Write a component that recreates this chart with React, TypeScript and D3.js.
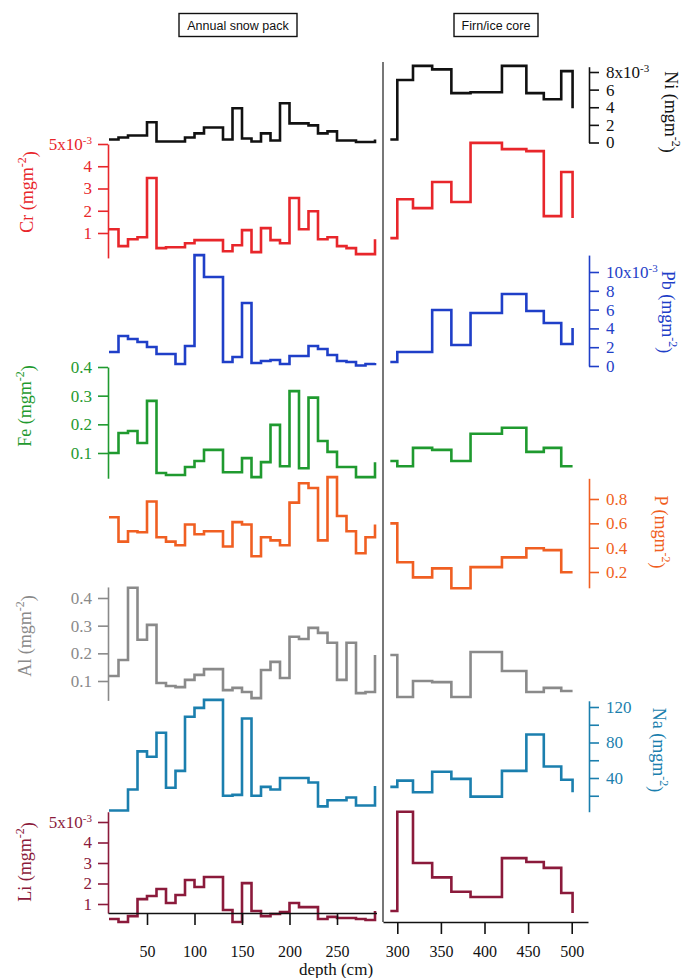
import { useRef, useEffect } from "react";
import * as d3 from "d3";

// depth (cm) of each sample boundary
const leftDepth = [10, 20, 30, 40, 50, 60, 70, 80, 90, 100, 110, 120, 130, 140, 150, 160, 170, 180, 190, 200, 210, 220, 230, 240, 250, 260, 270, 280, 290];
const rightDepth = [292, 300, 318, 340, 362, 384, 420, 448, 468, 488, 501];

const leftTicks = [50, 100, 150, 200, 250];
const rightTicks = [300, 350, 400, 450, 500];

// fluxes, mg m-2 (Ni, Cr, Pb, Li in 10^-3)
const niLeft = [0.34, 0.57, 0.8, 0.8, 2.29, 0.11, 0.11, 0.11, 0.57, 1.03, 1.71, 1.71, 0.34, 3.89, 0.46, 0.11, 1.03, 0.23, 4.46, 2.17, 2.17, 1.94, 1.03, 1.26, 0.23, 0.23, 0.05, 0.05, 0.34];
const niRight = [0.34, 7.1, 8.7, 8.3, 5.6, 5.7, 8.7, 5.6, 4.9, 8.1, 3.9];

const crLeft = [1.17, 0.41, 0.72, 0.81, 3.47, 0.32, 0.36, 0.36, 0.54, 0.68, 0.68, 0.68, 0.18, 0.45, 1.13, 0.14, 1.22, 0.68, 0.54, 2.57, 1.17, 1.98, 0.72, 0.81, 0.41, 0.32, 0.05, 0.05, 0.72];
const crRight = [0.77, 2.52, 2.12, 3.29, 2.39, 5.05, 4.77, 4.68, 1.76, 3.74, 1.67];

const pbLeft = [1.49, 3.19, 2.87, 2.55, 2.02, 1.28, 1.28, 0.21, 2.13, 11.8, 9.47, 9.47, 0.43, 0.96, 6.7, 0.32, 0.53, 0.64, 0.21, 1.06, 1.06, 2.13, 1.81, 1.17, 0.53, 0.43, 0.05, 0.21, 0.32];
const pbRight = [0.43, 1.49, 1.49, 5.96, 2.23, 5.64, 7.66, 5.85, 4.57, 2.34, 4.04];

const feLeft = [0.1, 0.17, 0.177, 0.135, 0.282, 0.03, 0.023, 0.023, 0.051, 0.072, 0.111, 0.111, 0.033, 0.033, 0.082, 0.016, 0.068, 0.198, 0.054, 0.316, 0.047, 0.293, 0.142, 0.104, 0.051, 0.051, 0.016, 0.016, 0.068];
const feRight = [0.072, 0.054, 0.118, 0.111, 0.072, 0.167, 0.188, 0.104, 0.118, 0.054, 0.054];

const pLeft = [0.65, 0.45, 0.535, 0.527, 0.78, 0.486, 0.45, 0.42, 0.59, 0.51, 0.535, 0.535, 0.41, 0.61, 0.59, 0.33, 0.486, 0.46, 0.42, 0.77, 0.93, 0.89, 0.46, 0.98, 0.66, 0.535, 0.354, 0.486, 0.59];
const pRight = [0.6, 0.28, 0.156, 0.23, 0.066, 0.24, 0.32, 0.395, 0.38, 0.198, 0.198];

const alLeft = [0.118, 0.176, 0.437, 0.249, 0.303, 0.093, 0.082, 0.078, 0.104, 0.122, 0.143, 0.143, 0.067, 0.075, 0.06, 0.038, 0.14, 0.169, 0.111, 0.26, 0.252, 0.292, 0.274, 0.238, 0.104, 0.238, 0.056, 0.06, 0.194];
const alRight = [0.194, 0.042, 0.1, 0.096, 0.042, 0.205, 0.136, 0.06, 0.075, 0.064, 0.064];

const naLeft = [3.4, 3.4, 27, 70, 64, 91, 29, 48, 109, 119, 128, 128, 20, 21, 107, 20, 30, 27, 40, 40, 40, 35, 8, 15, 15, 18, 9, 9, 31];
const naRight = [30, 37, 24, 47, 39, 19, 48, 89, 53, 38, 24];

const liLeft = [0.27, 0.12, 0.41, 1.24, 1.39, 1.73, 1.05, 1.44, 2.17, 1.83, 2.32, 2.32, 0.71, 0.12, 2.02, 0.66, 0.41, 0.51, 0.61, 1.05, 0.85, 0.85, 0.27, 0.37, 0.32, 0.32, 0.27, 0.22, 0.66];
const liRight = [0.66, 5.5, 3.0, 2.3, 1.6, 1.34, 3.24, 3.05, 2.76, 1.54, 0.56];

// layout of each stacked trace: two value->pixel anchors, axis extent and side
const panels = [
  { name: "Ni", left: niLeft, right: niRight, color: "#111111", side: "right", anchors: [[0, 142.5], [8, 72]], extent: [0, 8.6], ticks: [0, 2, 4, 6, 8], labelled: [0, 2, 4, 6, 8], exp: 8, lx: 665, ly: 112 },
  { name: "Cr", left: crLeft, right: crRight, color: "#e8262b", side: "left", anchors: [[1, 233], [5, 144]], extent: [-0.12, 5], ticks: [1, 2, 3, 4, 5], labelled: [1, 2, 3, 4, 5], exp: 5, lx: 33, ly: 192 },
  { name: "Pb", left: pbLeft, right: pbRight, color: "#1f3fc8", side: "right", anchors: [[0, 366], [10, 272]], extent: [0, 11.8], ticks: [0, 2, 4, 6, 8, 10], labelled: [0, 2, 4, 6, 8, 10], exp: 10, lx: 662, ly: 312 },
  { name: "Fe", left: feLeft, right: feRight, color: "#1f9a2f", side: "left", anchors: [[0.1, 453], [0.4, 367]], extent: [0.012, 0.4], ticks: [0.1, 0.2, 0.3, 0.4], labelled: [0.1, 0.2, 0.3, 0.4], exp: null, lx: 31, ly: 406 },
  { name: "P", left: pLeft, right: pRight, color: "#f05f22", side: "right", anchors: [[0.2, 572], [0.8, 499]], extent: [0.07, 0.97], ticks: [0.2, 0.4, 0.6, 0.8], labelled: [0.2, 0.4, 0.6, 0.8], exp: null, lx: 655, ly: 532 },
  { name: "Al", left: alLeft, right: alRight, color: "#8a8a8a", side: "left", anchors: [[0.1, 681], [0.4, 598]], extent: [0.03, 0.44], ticks: [0.1, 0.2, 0.3, 0.4], labelled: [0.1, 0.2, 0.3, 0.4], exp: null, lx: 31, ly: 636 },
  { name: "Na", left: naLeft, right: naRight, color: "#1b7fae", side: "right", anchors: [[40, 778], [120, 707]], extent: [2, 127], ticks: [20, 40, 60, 80, 100, 120], labelled: [40, 80, 120], exp: null, lx: 653, ly: 750 },
  { name: "Li", left: liLeft, right: liRight, color: "#8b1a3b", side: "left", anchors: [[1, 904], [5, 822]], extent: [0.56, 5.5], ticks: [1, 2, 3, 4, 5], labelled: [1, 2, 3, 4, 5], exp: 5, lx: 31, ly: 862 },
];

const serif = "Liberation Serif, Times New Roman, serif";
const sans = "Liberation Sans, Arial, sans-serif";

const SnowChart = () => {
  const svgRef = useRef<SVGSVGElement>(null);

  useEffect(() => {
    document.body.style.margin = "0";
    const svg = d3.select(svgRef.current);
    svg.selectAll("*").remove();

    const xL = d3.scaleLinear().domain([50, 250]).range([147, 337]);
    const xR = d3.scaleLinear().domain([300, 500]).range([397.3, 571.7]);

    // titles
    const titles = [
      { text: "Annual snow pack", x: 179, w: 118 },
      { text: "Firn/ice core", x: 454, w: 84 },
    ];
    titles.forEach((t) => {
      svg.append("rect")
        .attr("x", t.x).attr("y", 13.5).attr("width", t.w).attr("height", 23)
        .attr("fill", "none").attr("stroke", "#111").attr("stroke-width", 1.4);
      svg.append("text")
        .attr("x", t.x + t.w / 2).attr("y", 30)
        .attr("text-anchor", "middle")
        .attr("font-family", sans).attr("font-size", 12.5)
        .attr("fill", "#111")
        .text(t.text);
    });

    // divider between snow pack and firn core
    svg.append("line")
      .attr("x1", 383).attr("x2", 383).attr("y1", 62).attr("y2", 922)
      .attr("stroke", "#555").attr("stroke-width", 1.6);

    panels.forEach((p) => {
      const y = d3.scaleLinear()
        .domain([p.anchors[0][0], p.anchors[1][0]])
        .range([p.anchors[0][1], p.anchors[1][1]]);

      const lineL = d3.line<number>()
        .x((_, i) => xL(leftDepth[i]))
        .y((d) => y(d))
        .curve(d3.curveStepAfter);
      const lineR = d3.line<number>()
        .x((_, i) => xR(rightDepth[i]))
        .y((d) => y(d))
        .curve(d3.curveStepAfter);

      [lineL(p.left), lineR(p.right)].forEach((d) => {
        svg.append("path")
          .attr("d", d)
          .attr("fill", "none")
          .attr("stroke", p.color)
          .attr("stroke-width", 2.6)
          .attr("stroke-linejoin", "miter");
      });

      // y axis
      const axisScale = d3.scaleLinear()
        .domain(p.extent)
        .range(p.extent.map((v) => y(v)));
      const axisGen = (p.side === "left" ? d3.axisLeft(axisScale) : d3.axisRight(axisScale))
        .tickValues(p.ticks)
        .tickSizeInner(10)
        .tickSizeOuter(0)
        .tickPadding(p.side === "left" ? 6 : 7)
        .tickFormat((v) => (p.labelled.includes(v as number) ? String(v) : ""));

      const g = svg.append("g")
        .attr("transform", `translate(${p.side === "left" ? 108 : 589},0)`)
        .call(axisGen)
        .attr("font-family", serif)
        .attr("font-size", 17);
      g.select(".domain").attr("stroke", p.color).attr("stroke-width", 1.6);
      g.selectAll(".tick line").attr("stroke", p.color).attr("stroke-width", 1.6);
      g.selectAll<SVGTextElement, number>(".tick text")
        .attr("fill", p.color)
        .style("font-family", serif)
        .style("font-size", "17px")
        .each(function (v) {
          if (v === p.exp) {
            const t = d3.select(this);
            t.text(null);
            t.append("tspan").text(`${v}x10`);
            t.append("tspan").attr("dy", "-0.55em").style("font-size", "11px").text("-3");
          }
        });

      // axis title
      const rot = p.side === "left" ? -90 : 90;
      const title = svg.append("text")
        .attr("transform", `translate(${p.lx},${p.ly}) rotate(${rot})`)
        .attr("text-anchor", "middle")
        .style("font-family", serif)
        .style("font-size", "18px")
        .attr("fill", p.color);
      title.append("tspan").text(`${p.name} (mgm`);
      title.append("tspan").attr("dy", "-0.55em").style("font-size", "12px").text("-2");
      title.append("tspan").attr("dy", "0.55em").text(")");
    });

    // depth axes
    const bottomAxes = [
      { scale: xL, ticks: leftTicks, from: 108, to: 376.5, y: 913 },
      { scale: xR, ticks: rightTicks, from: 383, to: 588, y: 922 },
    ];
    bottomAxes.forEach((b) => {
      const s = b.scale.copy()
        .domain([b.scale.invert(b.from), b.scale.invert(b.to)])
        .range([b.from, b.to]);
      const g = svg.append("g")
        .attr("transform", `translate(0,${b.y})`)
        .call(d3.axisBottom(s).tickValues(b.ticks).tickSizeInner(12).tickSizeOuter(0).tickPadding(0))
        .attr("font-family", serif);
      g.select(".domain").attr("stroke", "#111").attr("stroke-width", 1.6);
      g.selectAll(".tick line").attr("stroke", "#111").attr("stroke-width", 1.6);
      g.selectAll(".tick text")
        .attr("fill", "#111")
        .style("font-family", serif)
        .style("font-size", "16px")
        .attr("y", 957 - b.y)
        .attr("dy", 0);
    });

    svg.append("text")
      .attr("x", 336).attr("y", 975)
      .attr("text-anchor", "middle")
      .style("font-family", serif)
      .style("font-size", "17px")
      .attr("fill", "#111")
      .text("depth (cm)");
  }, []);

  return <svg ref={svgRef} width={685} height={978} style={{ display: "block", background: "#fff" }}></svg>;
};

export default function App() {
  return <SnowChart />;
}
